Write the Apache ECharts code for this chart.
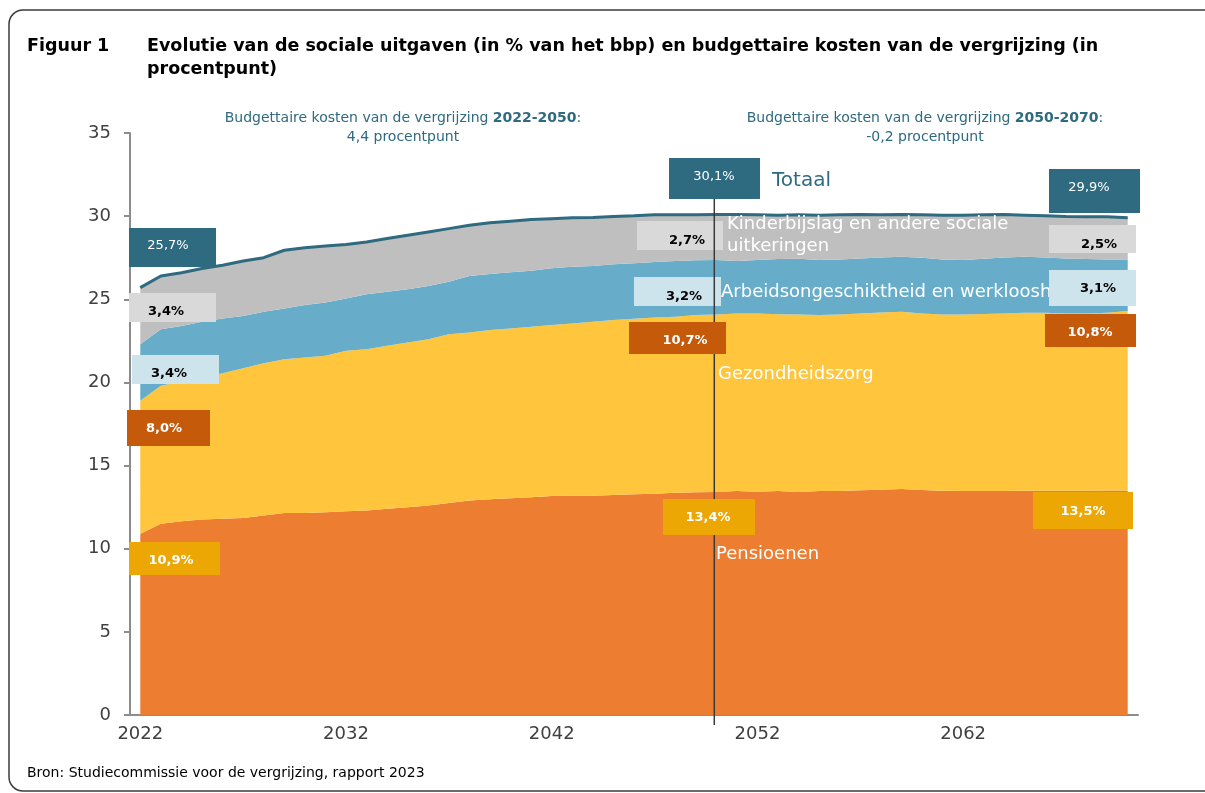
<!DOCTYPE html>
<html>
<head>
<meta charset="utf-8">
<script src="https://cdn.jsdelivr.net/npm/echarts@6/dist/echarts.min.js"></script>
<style>
  html, body { margin: 0; padding: 0; background: #fff; }
  #chart { width: 1205px; height: 793px; }
</style>
</head>
<body>
<div id="chart"></div>
<script>
// jaren 2022-2070
const years = [
  '2022','2023','2024','2025','2026','2027','2028','2029','2030','2031',
  '2032','2033','2034','2035','2036','2037','2038','2039','2040','2041',
  '2042','2043','2044','2045','2046','2047','2048','2049','2050','2051',
  '2052','2053','2054','2055','2056','2057','2058','2059','2060','2061',
  '2062','2063','2064','2065','2066','2067','2068','2069','2070'
];

const pensioenen = [
  10.9, 11.5, 11.65, 11.75, 11.8, 11.85, 12.0, 12.15, 12.15, 12.2,
  12.25, 12.3, 12.4, 12.5, 12.6, 12.75, 12.9, 12.97, 13.03, 13.09,
  13.17, 13.19, 13.19, 13.23, 13.27, 13.31, 13.37, 13.39, 13.41, 13.47,
  13.43, 13.47, 13.41, 13.47, 13.47, 13.51, 13.55, 13.59, 13.53, 13.49,
  13.47, 13.47, 13.47, 13.48, 13.48, 13.48, 13.49, 13.5, 13.5
];
const gezondheidszorg = [
  8.0, 8.3, 8.4, 8.55, 8.75, 9.0, 9.15, 9.25, 9.35, 9.4,
  9.65, 9.7, 9.8, 9.9, 10.0, 10.15, 10.1, 10.18, 10.22, 10.26,
  10.28, 10.36, 10.46, 10.52, 10.56, 10.6, 10.58, 10.66, 10.68, 10.68,
  10.72, 10.63, 10.68, 10.58, 10.62, 10.64, 10.66, 10.66, 10.62, 10.6,
  10.62, 10.64, 10.68, 10.71, 10.71, 10.67, 10.66, 10.69, 10.8
];
const arbeidsongeschiktheid = [
  3.4, 3.4, 3.35, 3.35, 3.3, 3.15, 3.1, 3.05, 3.15, 3.2,
  3.15, 3.3, 3.25, 3.2, 3.2, 3.15, 3.4, 3.37, 3.37, 3.37,
  3.41, 3.41, 3.35, 3.35, 3.33, 3.33, 3.35, 3.29, 3.27, 3.15,
  3.21, 3.32, 3.35, 3.31, 3.31, 3.31, 3.31, 3.31, 3.35, 3.31,
  3.27, 3.33, 3.37, 3.37, 3.33, 3.31, 3.27, 3.21, 3.1
];
const kinderbijslag = [
  3.4, 3.2, 3.2, 3.2, 3.2, 3.3, 3.25, 3.5, 3.45, 3.4,
  3.25, 3.15, 3.2, 3.25, 3.25, 3.2, 3.05, 3.08, 3.08, 3.08,
  2.99, 2.94, 2.92, 2.88, 2.86, 2.84, 2.78, 2.74, 2.74, 2.8,
  2.72, 2.63, 2.64, 2.69, 2.68, 2.64, 2.56, 2.54, 2.58, 2.65,
  2.69, 2.64, 2.58, 2.5, 2.5, 2.52, 2.54, 2.56, 2.5
];
const totaal = [
  25.7, 26.4, 26.6, 26.85, 27.05, 27.3, 27.5, 27.95, 28.1, 28.2,
  28.3, 28.45, 28.65, 28.85, 29.05, 29.25, 29.45, 29.6, 29.7, 29.8,
  29.85, 29.9, 29.92, 29.98, 30.02, 30.08, 30.08, 30.08, 30.1, 30.1,
  30.08, 30.05, 30.08, 30.05, 30.08, 30.1, 30.08, 30.1, 30.08, 30.05,
  30.05, 30.08, 30.1, 30.06, 30.02, 29.98, 29.96, 29.96, 29.9
];

// labels: totaal, kinderbijslag, arbeid, gezondheid, pensioen
const labels2022 = ['25,7%', '3,4%', '3,4%', '8,0%', '10,9%'];
const labels2050 = ['30,1%', '2,7%', '3,2%', '10,7%', '13,4%'];
const labels2070 = ['29,9%', '2,5%', '3,1%', '10,8%', '13,5%'];

const FONT = '"DejaVu Sans", sans-serif';
const C = {
  pensioen: '#ED7D31',
  gezond: '#FEC53D',
  arbeid: '#67ADC9',
  kinder: '#BFBFBF',
  totaal: '#2E6A80',
  boxKinder: '#D9D9D9',
  boxArbeid: '#CDE4ED',
  boxGezond: '#C55A0B',
  boxPensioen: '#EDA705'
};

// box styles per rij (totaal, kinder, arbeid, gezond, pensioen)
const boxFill = [C.totaal, C.boxKinder, C.boxArbeid, C.boxGezond, C.boxPensioen];
const boxText = ['#fff', '#000', '#000', '#fff', '#fff'];
const boxWeight = ['normal', 'bold', 'bold', 'bold', 'bold'];

// [x, y, w, h, tx, ty]
const boxes2022 = [
  [129, 228, 87, 39, 168, 246],
  [129, 293, 87, 29, 166, 312],
  [132, 355, 87, 29, 169, 374],
  [127, 410, 83, 36, 164, 429],
  [129, 542, 91, 33, 171, 561]
];
const boxes2050 = [
  [669, 158, 91, 41, 714, 177],
  [637, 221, 86, 29, 687, 241],
  [634, 277, 87, 29, 684, 297],
  [629, 322, 97, 32, 685, 341],
  [663, 499, 92, 36, 708, 518]
];
const boxes2070 = [
  [1049, 169, 91, 44, 1089, 188],
  [1049, 225, 87, 28, 1099, 245],
  [1049, 270, 87, 36, 1098, 289],
  [1045, 314, 91, 33, 1090, 333],
  [1033, 492, 100, 37, 1083, 512]
];

function makeBoxes(geo, texts) {
  const out = [];
  geo.forEach((g, i) => {
    const dark = i === 0 || i >= 3;
    out.push({
      type: 'rect', z: dark ? 120 : 100,
      shape: { x: g[0], y: g[1], width: g[2], height: g[3] },
      style: { fill: boxFill[i] }
    });
    out.push({
      type: 'text', z: dark ? 121 : 101,
      style: {
        text: texts[i], x: g[4], y: g[5],
        fill: boxText[i],
        font: boxWeight[i] + ' 13px ' + FONT,
        textAlign: 'center', textVerticalAlign: 'middle'
      }
    });
  });
  return out;
}

const chart = echarts.init(document.getElementById('chart'));

const areaSeries = (name, data, color) => ({
  name: name,
  type: 'line',
  stack: 'uitgaven',
  data: data,
  symbol: 'none',
  lineStyle: { width: 0 },
  areaStyle: { color: color, opacity: 1 },
  itemStyle: { color: color },
  z: 2
});

chart.setOption({
  animation: false,
  textStyle: { fontFamily: FONT },
  grid: { left: 130, right: 67, top: 133, bottom: 78, containLabel: false },
  xAxis: {
    type: 'category',
    data: years,
    boundaryGap: true,
    axisLine: { lineStyle: { color: '#8C8C8C', width: 2 } },
    axisTick: { interval: 9, length: 6, lineStyle: { color: '#8C8C8C', width: 2 } },
    axisLabel: { interval: 9, color: '#404040', fontSize: 18, margin: 10, fontFamily: FONT },
    splitLine: { show: false }
  },
  yAxis: {
    type: 'value',
    min: 0, max: 35, interval: 5,
    axisLine: { show: true, lineStyle: { color: '#8C8C8C', width: 2 } },
    axisTick: { show: true, length: 6, lineStyle: { color: '#8C8C8C', width: 2 } },
    axisLabel: { color: '#404040', fontSize: 18, margin: 19, fontFamily: FONT },
    splitLine: { show: false }
  },
  series: [
    areaSeries('Pensioenen', pensioenen, C.pensioen),
    areaSeries('Gezondheidszorg', gezondheidszorg, C.gezond),
    areaSeries('Arbeidsongeschiktheid en werkloosheid', arbeidsongeschiktheid, C.arbeid),
    areaSeries('Kinderbijslag en andere sociale uitkeringen', kinderbijslag, C.kinder),
    {
      name: 'Totaal',
      type: 'line',
      data: totaal,
      symbol: 'none',
      lineStyle: { color: C.totaal, width: 3 },
      itemStyle: { color: C.totaal },
      z: 5
    }
  ]
});

// verticale lijn bij 2050
const x2050 = chart.convertToPixel({ xAxisIndex: 0 }, '2050') - 2;

const graphics = [
  // kader
  {
    type: 'rect', z: 0,
    shape: { x: 9, y: 10, width: 1250, height: 781, r: 14 },
    style: { fill: 'none', stroke: '#3c3c3c', lineWidth: 1.5 }
  },
  // titel
  {
    type: 'text',
    style: { text: 'Figuur 1', x: 27, y: 46, fill: '#000', font: 'bold 17.5px ' + FONT, textVerticalAlign: 'middle' }
  },
  {
    type: 'text',
    style: {
      text: 'Evolutie van de sociale uitgaven (in % van het bbp) en budgettaire kosten van de vergrijzing (in',
      x: 147, y: 46, fill: '#000', font: 'bold 17.5px ' + FONT, textVerticalAlign: 'middle'
    }
  },
  {
    type: 'text',
    style: { text: 'procentpunt)', x: 147, y: 69, fill: '#000', font: 'bold 17.5px ' + FONT, textVerticalAlign: 'middle' }
  },
  // bron
  {
    type: 'text',
    style: {
      text: 'Bron: Studiecommissie voor de vergrijzing, rapport 2023',
      x: 27, y: 773, fill: '#000', font: '14px ' + FONT, textVerticalAlign: 'middle'
    }
  },
  // budgettaire kosten annotaties
  {
    type: 'text',
    style: {
      text: '{n|Budgettaire kosten van de vergrijzing }{b|2022-2050}{n|:}\n{n|4,4 procentpunt}',
      x: 403, y: 128, textAlign: 'center', textVerticalAlign: 'middle',
      rich: {
        n: { fill: C.totaal, font: '14px ' + FONT, lineHeight: 19 },
        b: { fill: C.totaal, font: 'bold 14px ' + FONT, lineHeight: 19 }
      }
    }
  },
  {
    type: 'text',
    style: {
      text: '{n|Budgettaire kosten van de vergrijzing }{b|2050-2070}{n|:}\n{n|-0,2 procentpunt}',
      x: 925, y: 128, textAlign: 'center', textVerticalAlign: 'middle',
      rich: {
        n: { fill: C.totaal, font: '14px ' + FONT, lineHeight: 19 },
        b: { fill: C.totaal, font: 'bold 14px ' + FONT, lineHeight: 19 }
      }
    }
  },
  // reeksnamen
  {
    type: 'text', z: 50,
    style: { text: 'Totaal', x: 772, y: 181, fill: C.totaal, font: '20px ' + FONT, textVerticalAlign: 'middle' }
  },
  {
    type: 'text', z: 50,
    style: {
      text: 'Kinderbijslag en andere sociale\nuitkeringen', x: 727, y: 235,
      fill: '#fff', font: '18px ' + FONT, lineHeight: 22, textVerticalAlign: 'middle'
    }
  },
  {
    type: 'text', z: 50,
    style: { text: 'Arbeidsongeschiktheid en werkloosheid', x: 721, y: 292, fill: '#fff', font: '18px ' + FONT, textVerticalAlign: 'middle' }
  },
  {
    type: 'text', z: 50,
    style: { text: 'Gezondheidszorg', x: 718, y: 374, fill: '#fff', font: '18px ' + FONT, textVerticalAlign: 'middle' }
  },
  {
    type: 'text', z: 50,
    style: { text: 'Pensioenen', x: 716, y: 554, fill: '#fff', font: '18px ' + FONT, textVerticalAlign: 'middle' }
  },
  {
    type: 'line', z: 110,
    shape: { x1: x2050, y1: 160, x2: x2050, y2: 725 },
    style: { stroke: '#3a3a3a', lineWidth: 1.5 }
  }
].concat(makeBoxes(boxes2022, labels2022))
 .concat(makeBoxes(boxes2050, labels2050))
 .concat(makeBoxes(boxes2070, labels2070));

chart.setOption({ graphic: { elements: graphics } });
</script>
</body>
</html>
